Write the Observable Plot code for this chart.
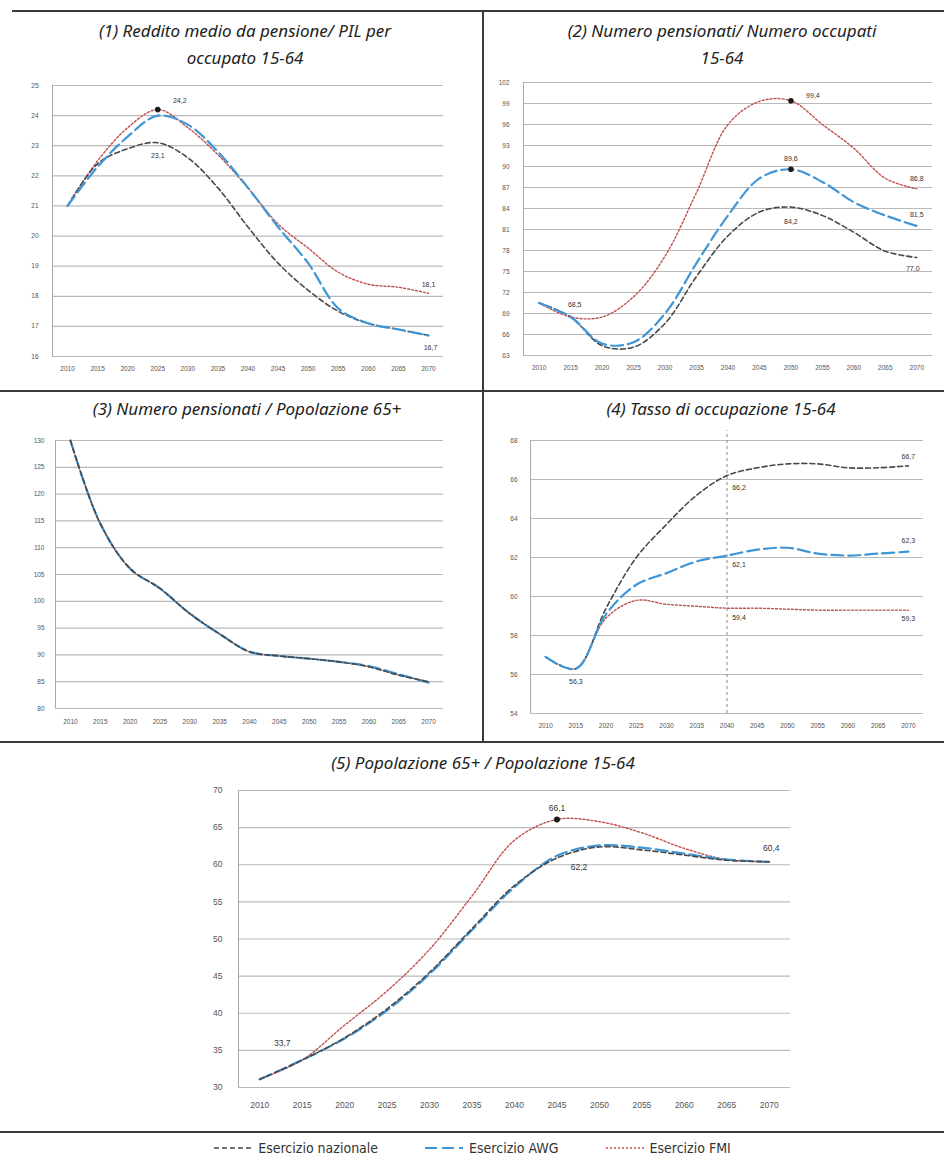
<!DOCTYPE html>
<html><head><meta charset="utf-8">
<script src="https://cdn.jsdelivr.net/npm/d3@7"></script>
<script src="https://cdn.jsdelivr.net/npm/@observablehq/plot@0.6"></script>
<style>
body{margin:0;background:#fff;}
#root{position:relative;width:944px;height:1170px;overflow:hidden;background:#fff;}
.title{position:absolute;text-align:center;font-family:"Noto Sans",sans-serif;font-style:italic;font-size:17px;color:#222;line-height:27px;white-space:nowrap;}
.rule{position:absolute;background:#3a3a3a;}
.panel{position:absolute;}
.legend{position:absolute;left:0;width:944px;top:1140px;display:flex;justify-content:center;align-items:center;gap:46px;font-family:"Liberation Sans Narrow","DejaVu Sans Condensed",sans-serif;font-size:14px;color:#333;}
.legend span.item{display:flex;align-items:center;gap:5px;}
</style></head><body><div id="root"></div>
<script>
// ---------------- DATA ----------------
const years = [2010,2015,2020,2025,2030,2035,2040,2045,2050,2055,2060,2065,2070];
const seriesKeys = ["naz","awg","fmi"];
const seriesNames = ["Esercizio nazionale","Esercizio AWG","Esercizio FMI"];

const panelTitles = [
  ["(1) Reddito medio da pensione/ PIL per","occupato 15-64"],
  ["(2) Numero pensionati/ Numero occupati","15-64"],
  ["(3) Numero pensionati / Popolazione 65+"],
  ["(4) Tasso di occupazione 15-64"],
  ["(5) Popolazione 65+ / Popolazione 15-64"]
];

// (1) Reddito medio da pensione / PIL per occupato 15-64
const p1Naz = [21.0,22.4,22.9,23.1,22.6,21.6,20.3,19.1,18.2,17.5,17.1,16.9,16.7];
const p1Awg = [21.0,22.3,23.3,24.0,23.7,22.8,21.6,20.3,19.1,17.6,17.1,16.9,16.7];
const p1Fmi = [21.0,22.5,23.6,24.2,23.6,22.7,21.6,20.4,19.6,18.8,18.4,18.3,18.1];
const p1Ticks = [16,17,18,19,20,21,22,23,24,25];
const p1Notes = [[2025,24.2,"24,2"],[2025,23.1,"23,1"],[2070,18.1,"18,1"],[2070,16.7,"16,7"]];
const p1Dots = [[2025,24.2]];

// (2) Numero pensionati / Numero occupati 15-64
const p2Naz = [70.5,68.5,64.4,64.2,67.6,74.3,80.1,83.5,84.2,83.0,80.6,77.9,77.0];
const p2Awg = [70.5,68.5,64.7,64.9,69.0,76.2,83.0,88.3,89.6,87.8,84.9,83.0,81.5];
const p2Fmi = [70.5,68.5,68.5,71.4,77.2,86.3,96.0,99.3,99.4,96.0,92.6,88.3,86.8];
const p2Ticks = [63,66,69,72,75,78,81,84,87,90,93,96,99,102];
const p2Notes = [[2015,68.5,"68,5"],[2050,99.4,"99,4"],[2050,89.6,"89,6"],[2050,84.2,"84,2"],[2070,86.8,"86,8"],[2070,81.5,"81,5"],[2070,77.0,"77,0"]];
const p2Dots = [[2050,99.4],[2050,89.6]];

// (3) Numero pensionati / Popolazione 65+
const p3Naz = [130.0,114.5,106.1,102.4,97.7,93.9,90.6,89.8,89.3,88.7,87.8,86.2,85.0];
const p3Awg = [130.0,114.5,106.1,102.4,97.7,93.9,90.6,89.8,89.3,88.7,87.9,86.4,84.8];
const p3Fmi = [130.0,114.5,106.1,102.4,97.7,93.9,90.6,89.8,89.3,88.7,87.8,86.3,85.0];
const p3Ticks = [80,85,90,95,100,105,110,115,120,125,130];

// (4) Tasso di occupazione 15-64
const p4Naz = [56.9,56.3,59.4,62.0,63.7,65.2,66.2,66.6,66.8,66.8,66.6,66.6,66.7];
const p4Awg = [56.9,56.3,59.1,60.6,61.2,61.8,62.1,62.4,62.5,62.2,62.1,62.2,62.3];
const p4Fmi = [56.9,56.3,58.9,59.8,59.6,59.5,59.4,59.4,59.35,59.3,59.3,59.3,59.3];
const p4Ticks = [54,56,58,60,62,64,66,68];
const p4Notes = [[2015,56.3,"56,3"],[2040,66.2,"66,2"],[2040,62.1,"62,1"],[2040,59.4,"59,4"],[2070,66.7,"66,7"],[2070,62.3,"62,3"],[2070,59.3,"59,3"]];
const p4Marker = 2040;

// (5) Popolazione 65+ / Popolazione 15-64
const p5Naz = [31.1,33.7,36.7,40.6,45.5,51.4,57.2,60.9,62.4,62.0,61.3,60.6,60.4];
const p5Awg = [31.1,33.7,36.6,40.4,45.3,51.2,57.0,61.2,62.6,62.3,61.5,60.7,60.4];
const p5Fmi = [31.1,33.7,38.4,43.0,48.6,55.8,63.3,66.1,65.8,64.3,62.2,60.7,60.4];
const p5Ticks = [30,35,40,45,50,55,60,65,70];
const p5Notes = [[2015,33.7,"33,7"],[2045,66.1,"66,1"],[2045,61.2,"62,2"],[2070,60.4,"60,4"]];
const p5Dots = [[2045,66.1]];

// ---------------- STYLES ----------------
const lineStyle = {
  naz: {stroke:"#4a4a4a", strokeWidth:1.6, strokeDasharray:"5,3"},
  awg: {stroke:"#3f96d6", strokeWidth:2.2, strokeDasharray:"12,5"},
  fmi: {stroke:"#c0504d", strokeWidth:1.4, strokeDasharray:"2,2"}
};
const FONT = "'Liberation Sans', Arial, sans-serif";

const root = document.getElementById("root");

function addRule(x,y,w,h){ const d=document.createElement("div"); d.className="rule"; Object.assign(d.style,{left:x+"px",top:y+"px",width:w+"px",height:h+"px"}); root.appendChild(d); }
function addTitle(lines, cx, top, fs){
  const d=document.createElement("div"); d.className="title";
  d.style.left=(cx-300)+"px"; d.style.width="600px"; d.style.top=top+"px";
  if (fs) d.style.fontSize = fs+"px";
  d.innerHTML = lines.join("<br>"); root.appendChild(d);
}

function makePanel(cfg){
  const rows = [];
  cfg.series.forEach((arr,k)=>arr.forEach((v,i)=>rows.push({year:years[i], value:v, s:seriesKeys[k]})));
  const marks = [
    Plot.ruleY(cfg.ticks, {stroke:"#b9b9b9", strokeWidth:1.2}),
    Plot.ruleX([2007.5], {stroke:"#a8a8a8", strokeWidth:1}),
    Plot.axisY({ticks:cfg.ticks, tickSize:0, tickPadding:cfg.padY, fontSize:cfg.fs, label:null}),
    Plot.axisX({ticks:years, tickSize:0, tickPadding:cfg.padX, tickFormat:d=>String(d), fontSize:cfg.fs, label:null})
  ];
  if (cfg.marker) marks.push(Plot.ruleX([cfg.marker], {y1:cfg.ticks[0], y2:cfg.ticks[cfg.ticks.length-1]+0.5, stroke:"#8a8a8a", strokeWidth:1, strokeDasharray:"3,3"}));
  for (const s of cfg.order) {
    marks.push(Plot.line(rows.filter(r=>r.s===s), {x:"year", y:"value", curve:"catmull-rom", ...lineStyle[s]}));
  }
  if (cfg.dots) marks.push(Plot.dot(cfg.dots.map(d=>({year:d[0], value:d[1]})), {x:"year", y:"value", r:cfg.dotR||2.8, fill:"#1a1a1a", stroke:"none"}));
  if (cfg.notes) cfg.notes.forEach((n,i)=>{
    const off = cfg.noteOff[i];
    marks.push(Plot.text([{year:n[0], value:n[1], t:n[2]}], {x:"year", y:"value", text:"t", dx:off[0], dy:off[1], fontSize:cfg.nfs, fill:"#333"}));
  });
  const svg = Plot.plot({
    width: cfg.w, height: cfg.h,
    marginTop: cfg.m[0], marginRight: cfg.m[1], marginBottom: cfg.m[2], marginLeft: cfg.m[3],
    x: {type:"linear", domain:[2007.5, 2072.5], label:null},
    y: {domain:[cfg.ticks[0], cfg.ticks[cfg.ticks.length-1]], label:null},
    style: {fontFamily: FONT, color:"#555", background:"transparent", overflow:"visible"},
    marks
  });
  const wrap = document.createElement("div"); wrap.className="panel";
  wrap.style.left=cfg.x+"px"; wrap.style.top=cfg.y+"px";
  wrap.appendChild(svg); root.appendChild(wrap);
}

// frame rules
addRule(12,10,932,2);
addRule(0,390,944,2);
addRule(0,741,944,2);
addRule(0,1131,944,2);
addRule(482,10,2,732);

// titles
addTitle(panelTitles[0], 245, 17);
addTitle(panelTitles[1], 722, 17);
addTitle(panelTitles[2], 247, 395);
addTitle(panelTitles[3], 721, 395);
addTitle(panelTitles[4], 483, 749);

makePanel({x:0, y:75, w:483, h:305, m:[10,40,24,52], ticks:p1Ticks, series:[p1Naz,p1Awg,p1Fmi], order:["fmi","naz","awg"],
  padY:14, padX:10, fs:6.5, nfs:7, dots:p1Dots, notes:p1Notes, noteOff:[[22,-9],[0,13],[0,-9],[2,12]]});
makePanel({x:483, y:72, w:461, h:308, m:[10,12,25,40], ticks:p2Ticks, series:[p2Naz,p2Awg,p2Fmi], order:["fmi","naz","awg"],
  padY:14, padX:10, fs:6.5, nfs:7, dots:p2Dots, notes:p2Notes, noteOff:[[4,-12],[22,-5],[0,-11],[0,15],[0,-10],[0,-11],[-4,11]]});
makePanel({x:0, y:430, w:483, h:310, m:[10,40,32,55], ticks:p3Ticks, series:[p3Naz,p3Awg,p3Fmi], order:["fmi","awg","naz"],
  padY:11, padX:11, fs:6.5, nfs:7});
makePanel({x:483, y:425, w:461, h:315, m:[15,21,27,47], ticks:p4Ticks, series:[p4Naz,p4Awg,p4Fmi], order:["fmi","naz","awg"],
  padY:13, padX:10, fs:6.5, nfs:7, marker:p4Marker, notes:p4Notes, noteOff:[[0,13],[12,12],[12,9],[12,10],[0,-9],[0,-11],[0,9]]});
makePanel({x:150, y:780, w:700, h:345, m:[10,60,38,88], ticks:p5Ticks, series:[p5Naz,p5Awg,p5Fmi], order:["fmi","awg","naz"],
  padY:16, padX:14, fs:8.5, nfs:8.5, dots:p5Dots, dotR:3, notes:p5Notes, noteOff:[[-20,-17],[0,-11],[22,11],[2,-14]]});

// legend
const leg = document.createElement("div"); leg.className="legend";
seriesKeys.forEach((k,i)=>{
  const st = lineStyle[k];
  const item = document.createElement("span"); item.className="item";
  item.innerHTML = `<svg width="40" height="10"><line x1="1" y1="5" x2="39" y2="5" stroke="${st.stroke}" stroke-width="${st.strokeWidth}" stroke-dasharray="${st.strokeDasharray}"/></svg><span>${seriesNames[i]}</span>`;
  leg.appendChild(item);
});
root.appendChild(leg);
</script></body></html>
